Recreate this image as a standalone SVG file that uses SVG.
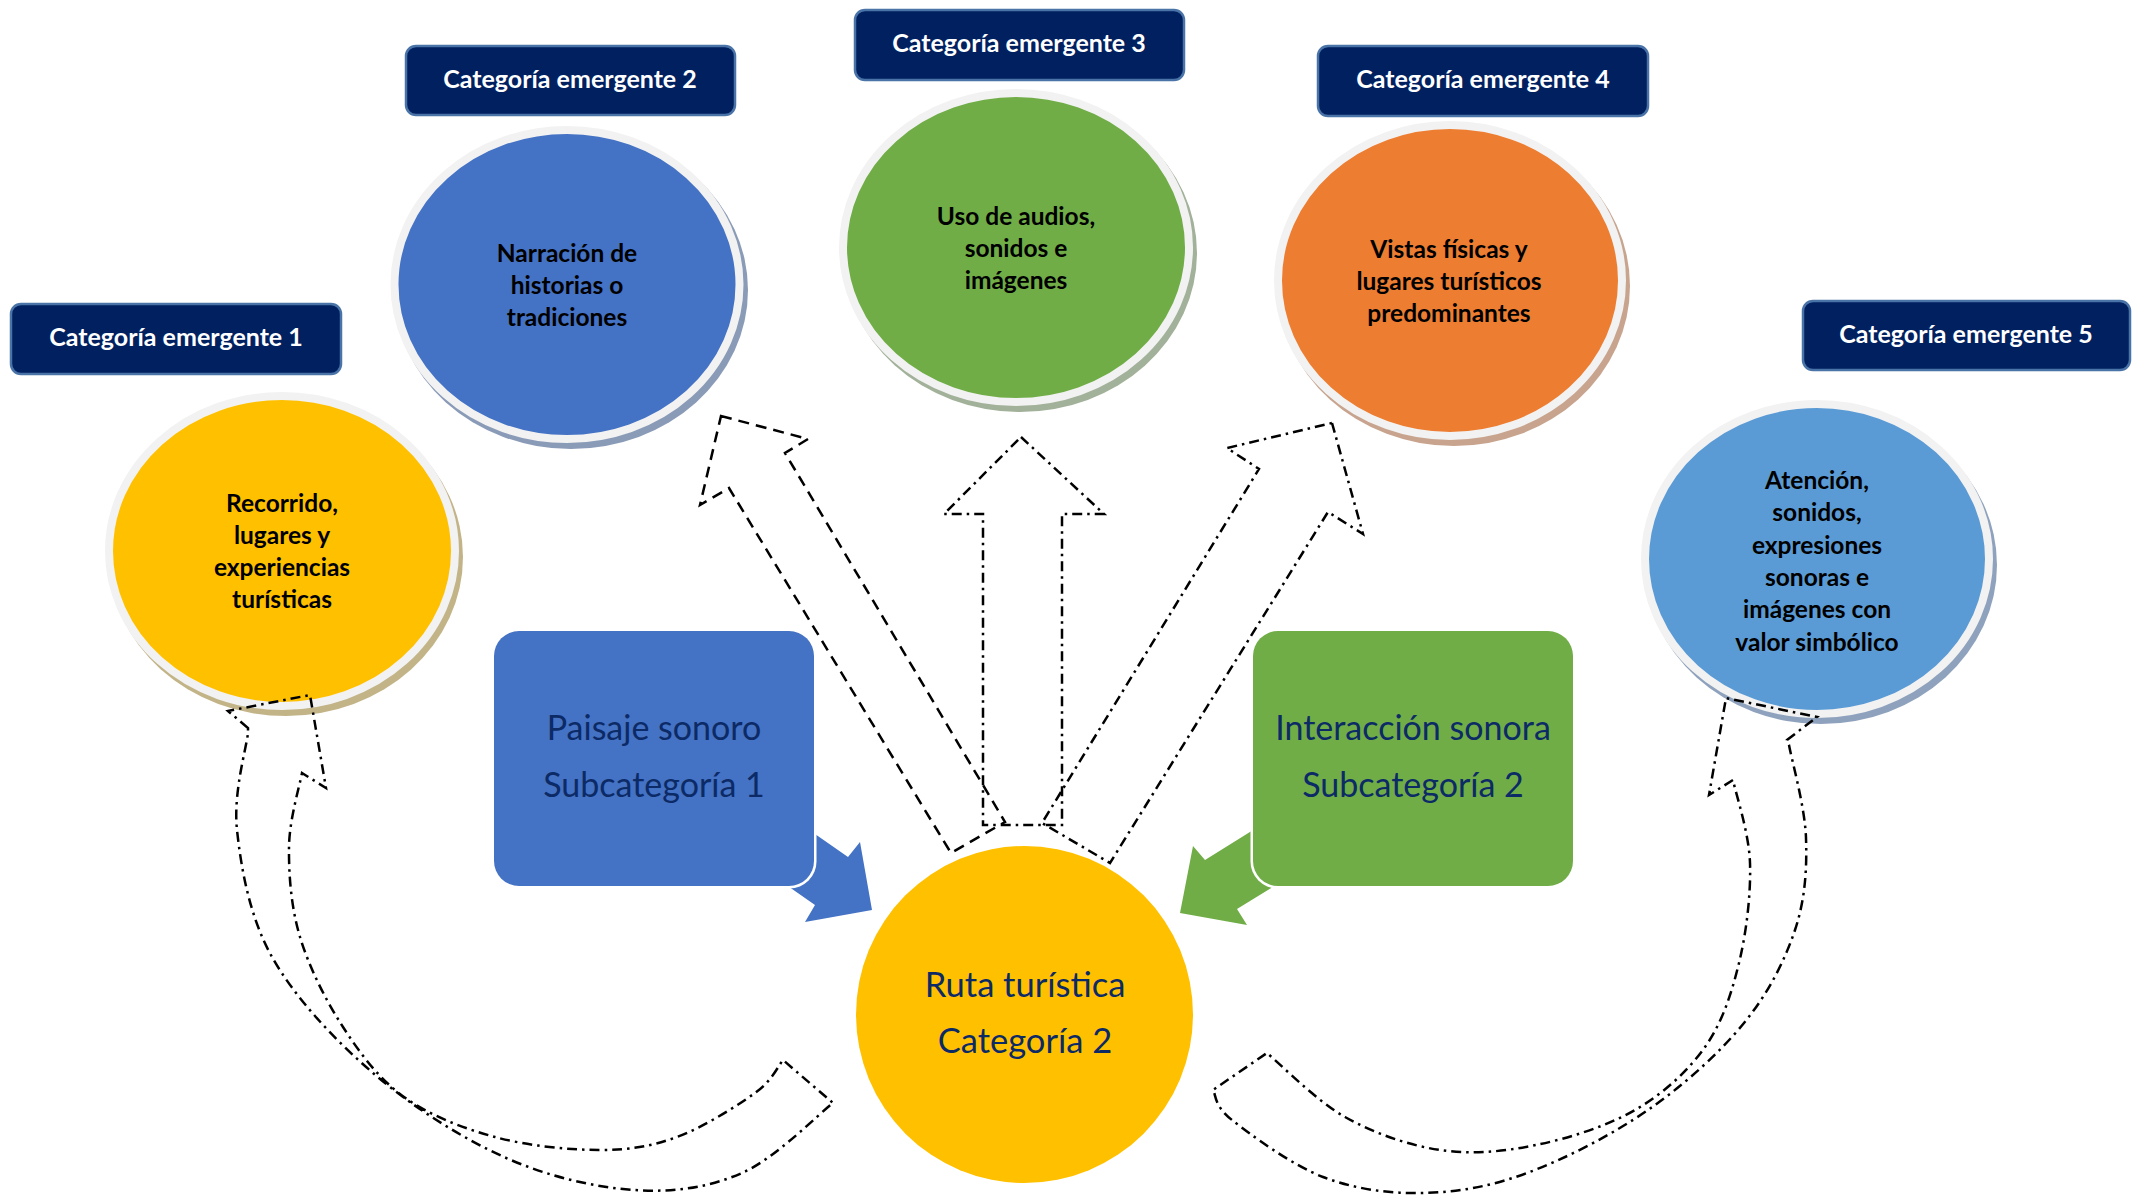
<svg xmlns="http://www.w3.org/2000/svg" width="2145" height="1198" viewBox="0 0 2145 1198">
<style>
.lbl rect{fill:#002060;stroke:#4a74a8;stroke-width:2.5}
.lbl text{fill:#ffffff;font-family:Lato,"Open Sans",sans-serif;font-weight:bold;font-size:25px;text-anchor:middle}
.ring{stroke:#f2f2f2;stroke-width:8}
.ct{fill:#000;font-family:Lato,"Open Sans",sans-serif;font-weight:bold;font-size:24.5px;text-anchor:middle}
.st{fill:#0c2a66;font-family:Lato,"Open Sans",sans-serif;font-size:34px;text-anchor:middle}
.dash{fill:none;stroke:#000;stroke-width:2.5;stroke-dasharray:11 7;stroke-linejoin:miter}
.dd{fill:none;stroke:#000;stroke-width:2.5;stroke-dasharray:10 5 2.5 5;stroke-linejoin:miter}
</style>
<defs>
<mask id="mBlue"><rect width="2145" height="1198" fill="#fff"/><rect x="491.5" y="628.5" width="325" height="260" rx="27" fill="#000"/></mask>
<mask id="mGreen"><rect width="2145" height="1198" fill="#fff"/><rect x="1250.5" y="628.5" width="325" height="260" rx="27" fill="#000"/></mask>
</defs>
<rect width="2145" height="1198" fill="#ffffff"/>

<g id="label1" class="lbl"><rect x="11" y="304" width="330" height="70" rx="10"/><text x="176" y="346">Categoría emergente 1</text></g>
<g id="label2" class="lbl"><rect x="406" y="46" width="329" height="69" rx="10"/><text x="570" y="87.5">Categoría emergente 2</text></g>
<g id="label3" class="lbl"><rect x="855" y="10" width="329" height="70" rx="10"/><text x="1019" y="52">Categoría emergente 3</text></g>
<g id="label4" class="lbl"><rect x="1318" y="46" width="330" height="70" rx="10"/><text x="1483" y="88">Categoría emergente 4</text></g>
<g id="label5" class="lbl"><rect x="1803" y="301" width="327" height="69" rx="10"/><text x="1966" y="342.5">Categoría emergente 5</text></g>

<g id="circle1">
<ellipse cx="286" cy="557" rx="177" ry="159" fill="#c3b488"/>
<ellipse class="ring" cx="282" cy="551" rx="173" ry="155" fill="#ffc000"/>
<text class="ct" x="282" y="512">Recorrido,</text>
<text class="ct" x="282" y="544">lugares y</text>
<text class="ct" x="282" y="576">experiencias</text>
<text class="ct" x="282" y="608">turísticas</text>
</g>
<g id="circle2">
<ellipse cx="571" cy="290" rx="177" ry="159" fill="#8a9bb8"/>
<ellipse class="ring" cx="567" cy="284.5" rx="172.5" ry="154.5" fill="#4472c4"/>
<text class="ct" x="567" y="262">Narración de</text>
<text class="ct" x="567" y="294">historias o</text>
<text class="ct" x="567" y="326">tradiciones</text>
</g>
<g id="circle3">
<ellipse cx="1020" cy="253" rx="177" ry="159" fill="#a2b199"/>
<ellipse class="ring" cx="1016" cy="247.5" rx="173" ry="154.5" fill="#70ad47"/>
<text class="ct" x="1016" y="225">Uso de audios,</text>
<text class="ct" x="1016" y="257">sonidos e</text>
<text class="ct" x="1016" y="289">imágenes</text>
</g>
<g id="circle4">
<ellipse cx="1454" cy="286" rx="176" ry="160" fill="#c8a48e"/>
<ellipse class="ring" cx="1450" cy="280.5" rx="172" ry="155.5" fill="#ed7d31"/>
<text class="ct" x="1449" y="258">Vistas físicas y</text>
<text class="ct" x="1449" y="290">lugares turísticos</text>
<text class="ct" x="1449" y="322">predominantes</text>
</g>
<g id="circle5">
<ellipse cx="1821" cy="565" rx="176" ry="159" fill="#8fa2bd"/>
<ellipse class="ring" cx="1817" cy="559" rx="172" ry="155" fill="#5b9bd5"/>
<text class="ct" x="1817" y="489">Atención,</text>
<text class="ct" x="1817" y="521">sonidos,</text>
<text class="ct" x="1817" y="554">expresiones</text>
<text class="ct" x="1817" y="586">sonoras e</text>
<text class="ct" x="1817" y="618">imágenes con</text>
<text class="ct" x="1817" y="651">valor simbólico</text>
</g>

<g id="sub1">
<rect x="494" y="631" width="320" height="255" rx="25" fill="#4472c4"/>
<text class="st" x="654" y="740">Paisaje sonoro</text>
<text class="st" x="654" y="797">Subcategoría 1</text>
</g>
<g id="sub2">
<rect x="1253" y="631" width="320" height="255" rx="25" fill="#70ad47"/>
<text class="st" x="1413" y="740">Interacción sonora</text>
<text class="st" x="1413" y="797">Subcategoría 2</text>
</g>

<g id="center">
<circle cx="1024.5" cy="1014.5" r="168.5" fill="#ffc000"/>
<text class="st" x="1025" y="997" style="font-size:34.5px">Ruta turística</text>
<text class="st" x="1025" y="1053" style="font-size:34.5px">Categoría 2</text>
</g>

<g id="connectors">
<polygon mask="url(#mBlue)" fill="#4472c4" points="782,811 848,857 860,842 872,910 805,922 815,905 749,859"/>
<polygon mask="url(#mGreen)" fill="#70ad47" points="1290,807 1205,860 1193,846 1180,913 1247,925 1237,909 1305,867"/>
<polygon class="dash" points="721,416 808,439 785,453 1005,822 951,853 729,488 700,505"/>
<polygon class="dd" points="1021,437 1104,514 1062,514 1062,825 983,825 983,514 944,514"/>
<polygon class="dd" points="1332,423 1363,534 1328,512 1110,863 1042,823 1259,469 1227,448"/>
<path class="dd" d="M248,728 L228,711 L310,695 L326,788 L302,773
C299.8,785.3 289.3,819.7 289,847
C288.7,874.3 291,907 300,937
C309,967 325.7,1000.3 343,1027
C360.3,1053.7 378.7,1078.7 404,1097
C429.3,1115.3 462.5,1128.2 495,1137
C527.5,1145.8 568.7,1150 599,1150
C629.3,1150 651,1146.5 677,1137
C703,1127.5 737.3,1105.8 755,1093
C772.7,1080.2 778.3,1065.5 783,1060
L833,1103
C817.8,1114.7 775.2,1158.5 742,1173
C708.8,1187.5 673.7,1192.7 634,1190
C594.3,1187.3 547.5,1176.5 504,1157
C460.5,1137.5 411.7,1106.3 373,1073
C334.3,1039.7 294.7,997.5 272,957
C249.3,916.5 241,867.3 237,830
C233,792.7 246.2,749.2 248,733 Z"/>
<path class="dd" d="M1787,740 L1817,717 L1726,698 L1709,795 L1733,780
C1735.8,793.8 1749,832.5 1750,863
C1751,893.5 1746.5,932.3 1739,963
C1731.5,993.7 1722.3,1022.5 1705,1047
C1687.7,1071.5 1663.2,1093.7 1635,1110
C1606.8,1126.3 1568.5,1138.3 1536,1145
C1503.5,1151.7 1471.8,1154.7 1440,1150
C1408.2,1145.3 1373.8,1133.2 1345,1117
C1316.2,1100.8 1280,1063.7 1267,1053
L1213,1090
C1216.2,1095 1213.7,1105.5 1232,1120
C1250.3,1134.5 1291.2,1164.8 1323,1177
C1354.8,1189.2 1389,1193.7 1423,1193
C1457,1192.3 1489.5,1186.8 1527,1173
C1564.5,1159.2 1611.8,1135 1648,1110
C1684.2,1085 1719.5,1053 1744,1023
C1768.5,993 1784.7,960.8 1795,930
C1805.3,899.2 1807,868.8 1806,838
C1805,807.2 1791.8,760.5 1789,745 Z"/>
</g>
</svg>
